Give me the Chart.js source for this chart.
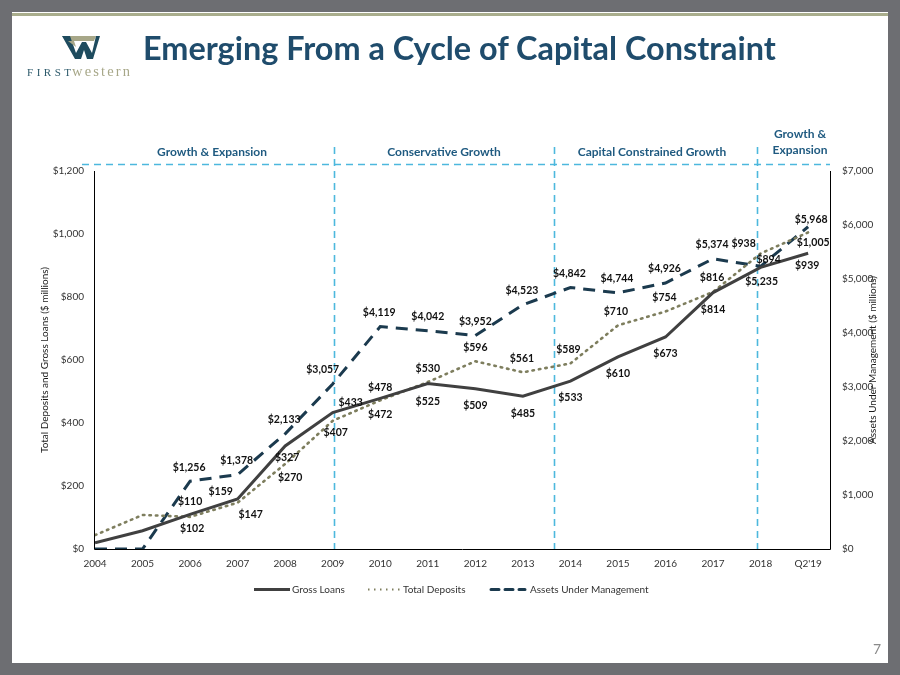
<!DOCTYPE html>
<html>
<head>
<meta charset="utf-8">
<script src="https://cdn.jsdelivr.net/npm/chart.js@4.4.1/dist/chart.umd.min.js"></script>
<style>
  html,body{margin:0;padding:0;background:#fff;}
  body{width:900px;height:675px;position:relative;overflow:hidden;font-family:Lato,"Open Sans",sans-serif;}
  .g{position:absolute;background:#6D6E72;}
  #title{position:absolute;left:143px;top:28px;font:bold 32.4px Lato,sans-serif;color:#1F4C6C;white-space:nowrap;}
  #pg{position:absolute;left:873px;top:640px;font:14px Lato,sans-serif;color:#8a8a8a;}
  #logo{position:absolute;left:24px;top:33px;}
  canvas{position:absolute;left:0;top:0;}
</style>
</head>
<body>
<canvas id="c" width="900" height="675"></canvas>
<div class="g" style="left:0;top:0;width:900px;height:12px"></div>
<div class="g" style="left:0;top:0;width:12px;height:675px"></div>
<div class="g" style="left:888px;top:0;width:12px;height:675px"></div>
<div class="g" style="left:0;top:663px;width:900px;height:12px"></div>
<div style="position:absolute;left:12px;top:13px;width:876px;height:3px;background:#A9AD8C"></div>
<div id="title">Emerging From a Cycle of Capital Constraint</div>
<div id="pg">7</div>
<svg id="logo" width="115" height="48" viewBox="0 0 115 48">
  <polygon points="38,3 72,3 70,8 44,8" fill="#A7A788"/>
  <polygon points="38,3 46,3 52,20 58,9 62,9 68,20 72,3 76,3 69,26 63,26 60,17 57,26 51,26" fill="#1E4B5E"/>
  <polygon points="44,8 50,8 52,14" fill="#A7A788"/>
  <text x="3" y="43" font-family="Liberation Serif,DejaVu Serif,serif" font-size="11" fill="#2D5A6B" textLength="44" lengthAdjust="spacing">FIRST</text>
  <text x="48" y="43" font-family="Liberation Serif,DejaVu Serif,serif" font-size="14.5" fill="#A7A788" textLength="58" lengthAdjust="spacing">western</text>
</svg>
<script>
// ---------------- DATA ----------------
const categories = ["2004","2005","2006","2007","2008","2009","2010","2011","2012","2013","2014","2015","2016","2017","2018","Q2'19"];
const grossLoans     = [20, 58, 110, 159, 327, 433, 478, 525, 509, 485, 533, 610, 673, 814, 894, 939];
const totalDeposits  = [44, 108, 102, 147, 270, 407, 472, 530, 596, 561, 589, 710, 754, 816, 938, 1005];
const aum            = [0, 0, 1256, 1378, 2133, 3057, 4119, 4042, 3952, 4523, 4842, 4744, 4926, 5374, 5235, 5968];
const leftTicks  = [0, 200, 400, 600, 800, 1000, 1200];
const rightTicks = [0, 1000, 2000, 3000, 4000, 5000, 6000, 7000];
const phaseNames = ["Growth & Expansion", "Conservative Growth", "Capital Constrained Growth", "Growth &\nExpansion"];
const phaseBreaks = [5.03, 9.66, 13.92]; // category-index positions of the phase dividers

// ---------------- STYLE (label placement, px) ----------------
const loansLabelOff = [null,null,[0,-13],[-17,-7],[2,12],[18,-10],[0,-11],[0,18],[0,17],[0,17],[0,17],[0,17],[0,17],[0,17],[8,-8],[-1,12]];
const depLabelOff   = [null,null,[2,12],[13,12],[5,14],[3,12],[0,14],[0,-13],[0,-14],[-1,-14],[-2,-14],[-2,-14],[-1,-14],[-1,-14],[-17,-10],[5,10]];
const aumLabelOff   = [null,null,[-1,-14],[-1,-14],[-1,-14],[-10,-14],[-1,-14],[0,-14],[0,-14],[-1,-14],[-1,-14],[-1,-14],[-1,-14],[-1,-14],[1,15],[3,-7]];
const phaseCenters = [212, 444, 652, 800];

const FONT = 'Lato, "Open Sans", sans-serif';
const C_LOANS = '#404040', C_DEP = '#7E7E5E', C_AUM = '#1B3A4E', C_PHASE = '#4DB8DD', C_HEAD = '#1F5A80';

const toXY = arr => arr.map((v,i)=>({x:i, y:v}));
const fmt = v => '$' + v.toLocaleString('en-US');

const decor = {
  id:'decor',
  beforeDatasetsDraw(chart){
    const {ctx, chartArea:a, scales} = chart;
    const xs = scales.x;
    ctx.save();
    ctx.strokeStyle = C_PHASE; ctx.lineWidth = 1.6; ctx.setLineDash([7,5]);
    phaseBreaks.forEach(p=>{
      const x = Math.round(xs.getPixelForValue(p))+0.5;
      ctx.beginPath(); ctx.moveTo(x,147); ctx.lineTo(x,a.bottom); ctx.stroke();
    });
    ctx.beginPath(); ctx.moveTo(82,164.5); ctx.lineTo(a.right,164.5); ctx.stroke();
    ctx.restore();
    ctx.save();
    ctx.strokeStyle = '#000'; ctx.lineWidth = 1; ctx.setLineDash([]);
    ctx.beginPath();
    ctx.moveTo(a.left-0.5, a.top); ctx.lineTo(a.left-0.5, a.bottom+0.5); ctx.lineTo(a.right+0.5, a.bottom+0.5); ctx.lineTo(a.right+0.5, a.top);
    ctx.stroke();
    ctx.restore();
  },
  afterDraw(chart){
    const {ctx} = chart;
    ctx.save();
    ctx.fillStyle = C_HEAD; ctx.font = 'bold 12px ' + FONT; ctx.textAlign='center'; ctx.textBaseline='middle';
    phaseNames.forEach((n,i)=>{
      const lines = n.split('\n');
      lines.forEach((l,j)=>{
        const y = lines.length>1 ? 134 + j*16 : 152;
        ctx.fillText(l, phaseCenters[i], y);
      });
    });
    ctx.fillStyle = '#1a1a1a'; ctx.font = '10px ' + FONT;
    ctx.save(); ctx.translate(45, 360); ctx.rotate(-Math.PI/2); ctx.fillText('Total Deposits and Gross Loans ($ millions)',0,0); ctx.restore();
    ctx.save(); ctx.translate(873, 360); ctx.rotate(-Math.PI/2); ctx.fillText('Assets Under Management ($ millions)',0,0); ctx.restore();
    ctx.font = 'bold 10.5px ' + FONT; ctx.fillStyle = '#111';
    const sets = [[0, grossLoans, loansLabelOff],[1, totalDeposits, depLabelOff],[2, aum, aumLabelOff]];
    sets.forEach(([di, vals, offs])=>{
      const meta = chart.getDatasetMeta(di);
      meta.data.forEach((pt,i)=>{
        const o = offs[i]; if(!o) return;
        ctx.fillText(fmt(vals[i]), pt.x + o[0], pt.y + o[1]);
      });
    });
    const ly = 589.5;
    ctx.lineWidth = 3; ctx.font = '10px ' + FONT; ctx.textAlign='left'; ctx.fillStyle='#333';
    ctx.strokeStyle = C_LOANS; ctx.setLineDash([]); ctx.lineCap='butt';
    ctx.beginPath(); ctx.moveTo(254,ly); ctx.lineTo(290,ly); ctx.stroke();
    ctx.fillText('Gross Loans', 292, ly);
    ctx.strokeStyle = C_DEP; ctx.lineWidth=2.2; ctx.setLineDash([1.5,4.5]);
    ctx.beginPath(); ctx.moveTo(368,ly); ctx.lineTo(400,ly); ctx.stroke();
    ctx.fillText('Total Deposits', 403, ly);
    ctx.strokeStyle = C_AUM; ctx.lineWidth=3; ctx.setLineDash([8,6]); ctx.lineCap='round';
    ctx.beginPath(); ctx.moveTo(491,ly); ctx.lineTo(525,ly); ctx.stroke();
    ctx.setLineDash([]);
    ctx.fillText('Assets Under Management', 530, ly);
    ctx.restore();
  }
};

new Chart(document.getElementById('c'), {
  type:'line',
  data:{
    datasets:[
      {label:'Gross Loans', data:toXY(grossLoans), yAxisID:'y', borderColor:C_LOANS, borderWidth:3, pointRadius:0, tension:0},
      {label:'Total Deposits', data:toXY(totalDeposits), yAxisID:'y', borderColor:C_DEP, borderWidth:2.6, borderDash:[1.5,5], borderCapStyle:'round', pointRadius:0, tension:0},
      {label:'Assets Under Management', data:toXY(aum), yAxisID:'y1', borderColor:C_AUM, borderWidth:3, borderDash:[12,8], pointRadius:0, tension:0}
    ]
  },
  options:{
    responsive:false, animation:false, devicePixelRatio:1,
    layout:{padding:{top:171,left:0,right:0,bottom:0}},
    plugins:{legend:{display:false}, tooltip:{enabled:false}},
    scales:{
      x:{type:'linear', min:0, max:15.46, grid:{display:false, drawTicks:false}, border:{display:false},
         afterBuildTicks(s){ s.ticks = categories.map((c,i)=>({value:i})); },
         ticks:{padding:9, color:'#333', font:{size:10, family:FONT}, maxRotation:0, autoSkip:false,
                callback:(v)=> categories[Math.round(v)] ?? ''},
         afterFit(s){ s.height = 126; }},
      y:{position:'left', min:0, max:1200, grid:{display:false, drawTicks:false}, border:{display:false},
         afterBuildTicks(s){ s.ticks = leftTicks.map(v=>({value:v})); },
         ticks:{padding:11, color:'#333', font:{size:10, family:FONT}, callback:v=>fmt(v)},
         afterFit(s){ s.width = 95; }},
      y1:{position:'right', min:0, max:7000, grid:{display:false, drawTicks:false}, border:{display:false},
         afterBuildTicks(s){ s.ticks = rightTicks.map(v=>({value:v})); },
         ticks:{padding:12, color:'#333', font:{size:10, family:FONT}, callback:v=>fmt(v)},
         afterFit(s){ s.width = 70; }}
    }
  },
  plugins:[decor]
});
</script>
</body>
</html>
